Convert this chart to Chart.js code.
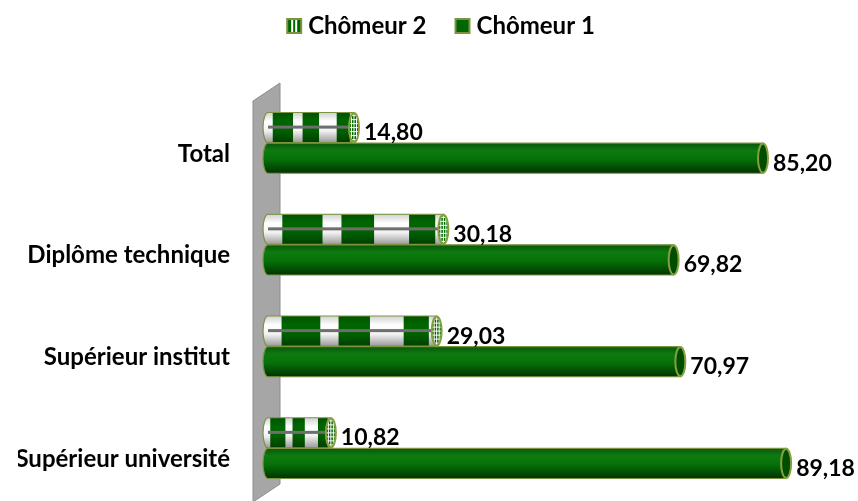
<!DOCTYPE html>
<html>
<head>
<meta charset="utf-8">
<script src="https://cdn.jsdelivr.net/npm/chart.js@4"></script>
<style>
html, body { margin: 0; padding: 0; background: #fff; }
#wrap { width: 858px; height: 501px; }
</style>
</head>
<body>
<div id="wrap"><canvas id="myChart"></canvas></div>
<script>
const categories = ['Total', 'Diplôme technique', 'Supérieur institut', 'Supérieur université'];
const chomeur2 = [14.80, 30.18, 29.03, 10.82];
const chomeur1 = [85.20, 69.82, 70.97, 89.18];
const seriesNames = ['Chômeur 2', 'Chômeur 1'];

const green = '#006600';
const olive = '#7c9440';
const FONT = 'Lato, Calibri, sans-serif';

// little legend squares (canvas is wider so the square sits close to its text)
function makeIcon(striped) {
    const c = document.createElement('canvas');
    c.width = 40; c.height = 16;
    const g = c.getContext('2d');
    const sx = 22;
    g.fillStyle = olive; g.fillRect(sx, 0, 16, 16);
    g.fillStyle = green; g.fillRect(sx + 2, 2, 12, 12);
    if (striped) {
        g.fillStyle = '#fff';
        g.fillRect(sx + 5, 2, 2, 12);
        g.fillRect(sx + 9, 2, 2, 12);
    }
    return c;
}
const legendIcons = [makeIcon(true), makeIcon(false)];

// white stripes of the patterned bars, as share of the bar length
const whiteBands = [[0, 0.107], [0.33, 0.435], [0.616, 0.81], [0.955, 1]];

function cylPath(ctx, x0, x1, cy, h, rx) {
    const top = cy - h / 2;
    ctx.beginPath();
    ctx.moveTo(x1, top);
    ctx.lineTo(x0, top);
    ctx.ellipse(x0, cy, rx, h / 2, 0, -Math.PI / 2, Math.PI / 2, true);
    ctx.lineTo(x1, top + h);
    ctx.closePath();
}

function drawCylinder(ctx, el, striped) {
    const h = el.height, cy = el.y, top = cy - h / 2, rx = 5;
    const x0 = el.base, x1 = el.x;
    ctx.save();
    cylPath(ctx, x0, x1, cy, h, rx);
    if (!striped) {
        const gr = ctx.createLinearGradient(0, top, 0, top + h);
        gr.addColorStop(0, '#0a560a');
        gr.addColorStop(0.25, '#0d7b10');
        gr.addColorStop(0.55, '#067008');
        gr.addColorStop(1, '#003300');
        ctx.fillStyle = gr;
        ctx.fill();
    } else {
        ctx.save();
        ctx.clip();
        const left = x0 - rx, len = x1 - left;
        ctx.fillStyle = green;
        ctx.fillRect(left, top, len + 1, h);
        ctx.fillStyle = '#ffffff';
        whiteBands.forEach(b => ctx.fillRect(left + b[0] * len, top, (b[1] - b[0]) * len, h));
        const sh = ctx.createLinearGradient(0, top, 0, top + h);
        sh.addColorStop(0, 'rgba(0,0,0,0.18)');
        sh.addColorStop(0.3, 'rgba(0,0,0,0)');
        sh.addColorStop(0.6, 'rgba(0,0,0,0.05)');
        sh.addColorStop(1, 'rgba(0,0,0,0.4)');
        ctx.fillStyle = sh;
        ctx.fillRect(left, top, len + 1, h);
        // grey rod through the middle
        ctx.fillStyle = '#6e6e6e';
        ctx.fillRect(x0, cy - 2, x1 - x0, 3);
        ctx.restore();
    }
    ctx.lineWidth = 1.2;
    ctx.strokeStyle = olive;
    cylPath(ctx, x0, x1, cy, h, rx);
    ctx.stroke();

    // end cap
    ctx.beginPath();
    ctx.ellipse(x1, cy, rx, h / 2 - 0.5, 0, 0, Math.PI * 2);
    ctx.fillStyle = striped ? green : '#004d00';
    ctx.fill();
    if (striped) {
        ctx.save();
        ctx.clip();
        ctx.strokeStyle = '#ffffff';
        ctx.lineWidth = 1;
        for (let k = -2; k <= 2; k++) {
            ctx.beginPath();
            ctx.moveTo(x1 + k * 2.5, top);
            ctx.lineTo(x1 + k * 2.5, top + h);
            ctx.stroke();
        }
        for (let k = -3; k <= 3; k++) {
            ctx.beginPath();
            ctx.moveTo(x1 - rx, cy + k * 4);
            ctx.lineTo(x1 + rx, cy + k * 4);
            ctx.stroke();
        }
        ctx.restore();
        ctx.beginPath();
        ctx.ellipse(x1, cy, rx, h / 2 - 0.5, 0, 0, Math.PI * 2);
    }
    ctx.lineWidth = 2;
    ctx.strokeStyle = '#86a040';
    ctx.stroke();
    ctx.restore();
}

const cylinderPlugin = {
    id: 'cylinders',
    beforeDatasetsDraw(chart) {
        // grey back wall
        const ctx = chart.ctx, a = chart.chartArea;
        ctx.save();
        ctx.beginPath();
        ctx.moveTo(a.left - 15, a.top + 9);
        ctx.lineTo(a.left + 12, a.top - 9);
        ctx.lineTo(a.left + 12, a.bottom - 15);
        ctx.lineTo(a.left - 15, a.bottom + 3);
        ctx.closePath();
        ctx.fillStyle = '#a6a6a6';
        ctx.fill();
        ctx.strokeStyle = '#8c8c8c';
        ctx.lineWidth = 1;
        ctx.stroke();
        ctx.restore();
    },
    beforeDatasetDraw() {
        return false;
    },
    afterDatasetsDraw(chart) {
        const ctx = chart.ctx;
        [1, 0].forEach(di => {
            chart.getDatasetMeta(di).data.forEach(el => drawCylinder(ctx, el, di === 0));
        });
        ctx.save();
        ctx.font = 'bold 23px ' + FONT;
        ctx.fillStyle = '#000';
        ctx.textAlign = 'left';
        ctx.textBaseline = 'middle';
        chart.data.datasets.forEach((ds, di) => {
            chart.getDatasetMeta(di).data.forEach((el, i) => {
                const txt = ds.data[i].toFixed(2).replace('.', ',');
                ctx.fillText(txt, el.x + 10, el.y + 5);
            });
        });
        ctx.restore();
    }
};

new Chart('myChart', {
    type: 'bar',
    data: {
        labels: categories,
        datasets: [
            { label: seriesNames[0], data: chomeur2, backgroundColor: green },
            { label: seriesNames[1], data: chomeur1, backgroundColor: green }
        ]
    },
    options: {
        indexAxis: 'y',
        responsive: true,
        maintainAspectRatio: false,
        animation: false,
        events: [],
        layout: { padding: { left: 18, right: 9, top: 0, bottom: 2 } },
        datasets: { bar: { categoryPercentage: 0.6, barPercentage: 0.99 } },
        scales: {
            x: {
                position: 'top',
                min: 0,
                max: 100,
                ticks: { display: false },
                grid: { display: false, drawTicks: false },
                border: { display: false },
                afterFit(s) { s.height = 44; s.paddingLeft = 0; s.paddingRight = 0; }
            },
            y: {
                grid: { display: false, drawTicks: false },
                border: { display: false },
                ticks: {
                    color: '#000',
                    padding: 38,
                    labelOffset: 11,
                    font: { family: FONT, size: 24, weight: 'bold' }
                },
                afterFit(s) { s.width = 250; s.paddingTop = 0; s.paddingBottom = 0; }
            }
        },
        plugins: {
            tooltip: { enabled: false },
            legend: {
                position: 'top',
                labels: {
                    usePointStyle: true,
                    pointStyleWidth: 24,
                    boxWidth: 16,
                    boxHeight: 16,
                    padding: 14,
                    color: '#000',
                    font: { family: FONT, size: 24, weight: 'bold' },
                    generateLabels: chart => chart.data.datasets.map((ds, i) => ({
                        text: ds.label,
                        pointStyle: legendIcons[i],
                        datasetIndex: i,
                        hidden: false,
                        fontColor: '#000',
                        fillStyle: green,
                        strokeStyle: olive,
                        lineWidth: 0
                    }))
                }
            }
        }
    },
    plugins: [cylinderPlugin]
});
</script>
</body>
</html>
